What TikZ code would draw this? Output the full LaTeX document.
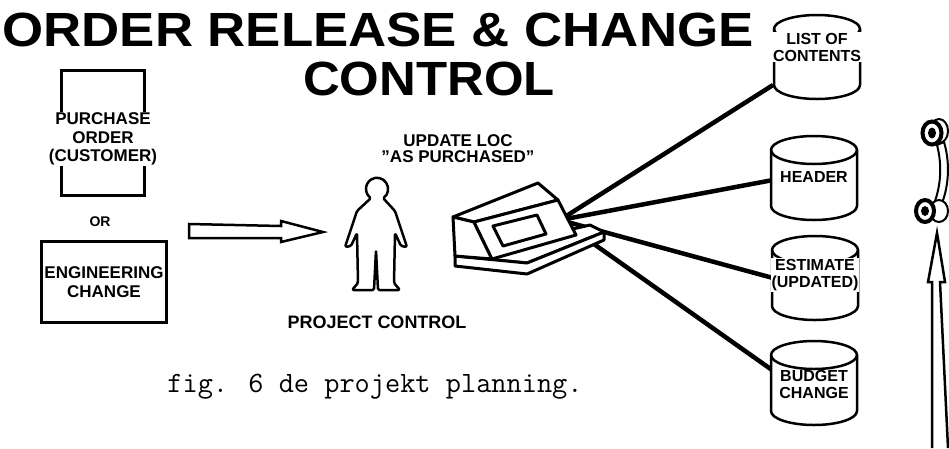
\documentclass[tikz,border=0pt]{standalone}
\usepackage{fontspec}
\setmainfont{Liberation Sans}
\usetikzlibrary{positioning,calc,backgrounds}

\newcommand{\lblfont}{\fontsize{18}{18}\selectfont\bfseries}
\newcommand{\storedisk}[2]{%
  \draw[disk] ($(#1.center)+(-43,28+#2)$) arc[start angle=180,end angle=0,x radius=43,y radius=14]
    -- ++(0,-56) arc[start angle=0,end angle=-180,x radius=43,y radius=14] -- cycle;
  \draw[disk,fill=none] ($(#1.center)+(-43,28+#2)$) arc[start angle=180,end angle=360,x radius=43,y radius=14];}

\tikzset{
  heading/.style={font=\fontsize{48}{50}\selectfont\bfseries},
  box/.style={draw,line width=3pt},
  boxtext/.style={font=\fontsize{17}{18.5}\selectfont\bfseries},
  disktext/.style={font=\fontsize{16}{17}\selectfont\bfseries},
  outline/.style={line width=3pt,line join=round,fill=white},
  hollow/.style={line width=2.5pt,line join=miter,fill=white},
  link/.style={line width=4.5pt},
  disk/.style={line width=2.5pt,fill=white},
}

\begin{document}
\begin{tikzpicture}[x=1pt,y=1pt,every node/.style={inner sep=0pt,align=center,font=\lblfont}]
  \useasboundingbox (0,0) rectangle (949,-448);

  \node[heading] (title) at (378,-30) {\scalebox{1.1}[1]{ORDER RELEASE \& CHANGE}};
  \node[heading] (title2) at (429,-79) {\scalebox{1.06}[1]{CONTROL}};

  % order sources
  \node[box,minimum width=83,minimum height=125] (order) at (103,-133) {};
  \node[boxtext,fill=white,inner sep=1pt] (orderlbl) at (103,-139) {PURCHASE\\ORDER\\(CUSTOMER)};
  \node[font=\fontsize{14}{14}\selectfont\bfseries] (or) at (100,-222) {OR};
  \node[box,boxtext,minimum width=125,minimum height=81] (engchange) at (104,-282) {ENGINEERING\\CHANGE};

  \draw[hollow] (189,-224) -- (281,-226) -- (281,-221) -- (323,-232) -- (281,-242) -- (281,-238) -- (189,-238) -- cycle;

  % project control person
  \draw[line width=2.5pt,line join=round,rounded corners=1.5pt]
    (383,-198) arc[start angle=-57,end angle=237,radius=11]
    -- (357,-211) -- (345,-247) -- (351,-246) -- (357,-233) -- (358,-283) -- (352,-290)
    -- (374,-290) -- (376,-250) -- (378,-290) -- (400,-290) -- (394,-283) -- (395,-233)
    -- (401,-246) -- (407,-247) -- (395,-211) -- cycle;
  \node (projctl) at (377,-322) {PROJECT CONTROL};
  \node[font=\fontsize{17}{16}\selectfont\bfseries] (update) at (458,-149) {UPDATE LOC\\\char34 AS PURCHASED\char34};

  % data stores
  \node[disktext,fill=white,inner sep=1pt] (contents) at (817,-47) {LIST OF\\CONTENTS};
  \node[disktext] (header) at (814,-177) {HEADER};
  \node[disktext,fill=white,inner sep=1pt] (estimate) at (815,-275) {ESTIMATE\\(UPDATED)};
  \node[disktext] (budget) at (814,-384) {BUDGET\\CHANGE};

  \coordinate (term) at (560,-220);
  \begin{scope}[on background layer]
    \draw[link] (term) -- ($(contents.center)+(-44,-38)$);
    \draw[link] (term) -- ($(header.center)+(-41,-3)$);
    \draw[link] (term) -- ($(estimate.center)+(-42,-3)$);
    \draw[link] (term) -- ($(budget.center)+(-42,14)$);
    \storedisk{contents}{-10}
    \storedisk{header}{-1}
    \storedisk{estimate}{-3}
    \storedisk{budget}{1}
  \end{scope}

  % terminal
  \draw[outline] (455,-256) -- (527,-263) -- (604,-232) -- (590,-225) -- cycle;
  \draw[outline] (455,-256) -- (455,-266) -- (527,-274) -- (604,-240) -- (604,-232) -- (527,-263) -- cycle;
  \draw[outline] (453,-217) -- (538,-183) -- (558,-200) -- (474,-222) -- cycle;
  \draw[outline] (453,-217) -- (474,-222) -- (492,-259) -- (455,-256) -- cycle;
  \draw[outline] (474,-222) -- (558,-200) -- (576,-235) -- (492,-259) -- cycle;
  \draw[outline] (493,-226) -- (537,-215) -- (546,-234) -- (503,-246) -- cycle;

  % telephone
  \draw[line width=2pt,fill=white] (944,-142) .. controls (950,-162) and (949,-185) .. (942,-203)
    -- (935,-201) .. controls (941,-184) and (942,-164) .. (937,-145) -- cycle;
  \draw[line width=2pt,fill=white] (939,-131) ellipse[x radius=9,y radius=12];
  \draw[line width=4pt,fill=white] (932,-133) ellipse[x radius=9.5,y radius=11.5];
  \fill (932,-133) ellipse[x radius=4,y radius=5.5];
  \draw[line width=2pt,fill=white] (939,-211) ellipse[x radius=9,y radius=11];
  \draw[line width=4pt,fill=white] (925,-211) ellipse[x radius=9,y radius=11];
  \fill (925,-211) ellipse[x radius=4,y radius=5];

  \draw[hollow,fill=none] (932,-448) -- (932,-282) -- (928,-282) -- (937,-233) -- (945,-282) -- (940,-282) -- (948,-448);

  \node[font=\fontsize{29.5}{30}\selectfont\ttfamily] (caption) at (375,-387) {fig. 6 de projekt planning.};
\end{tikzpicture}
\end{document}
